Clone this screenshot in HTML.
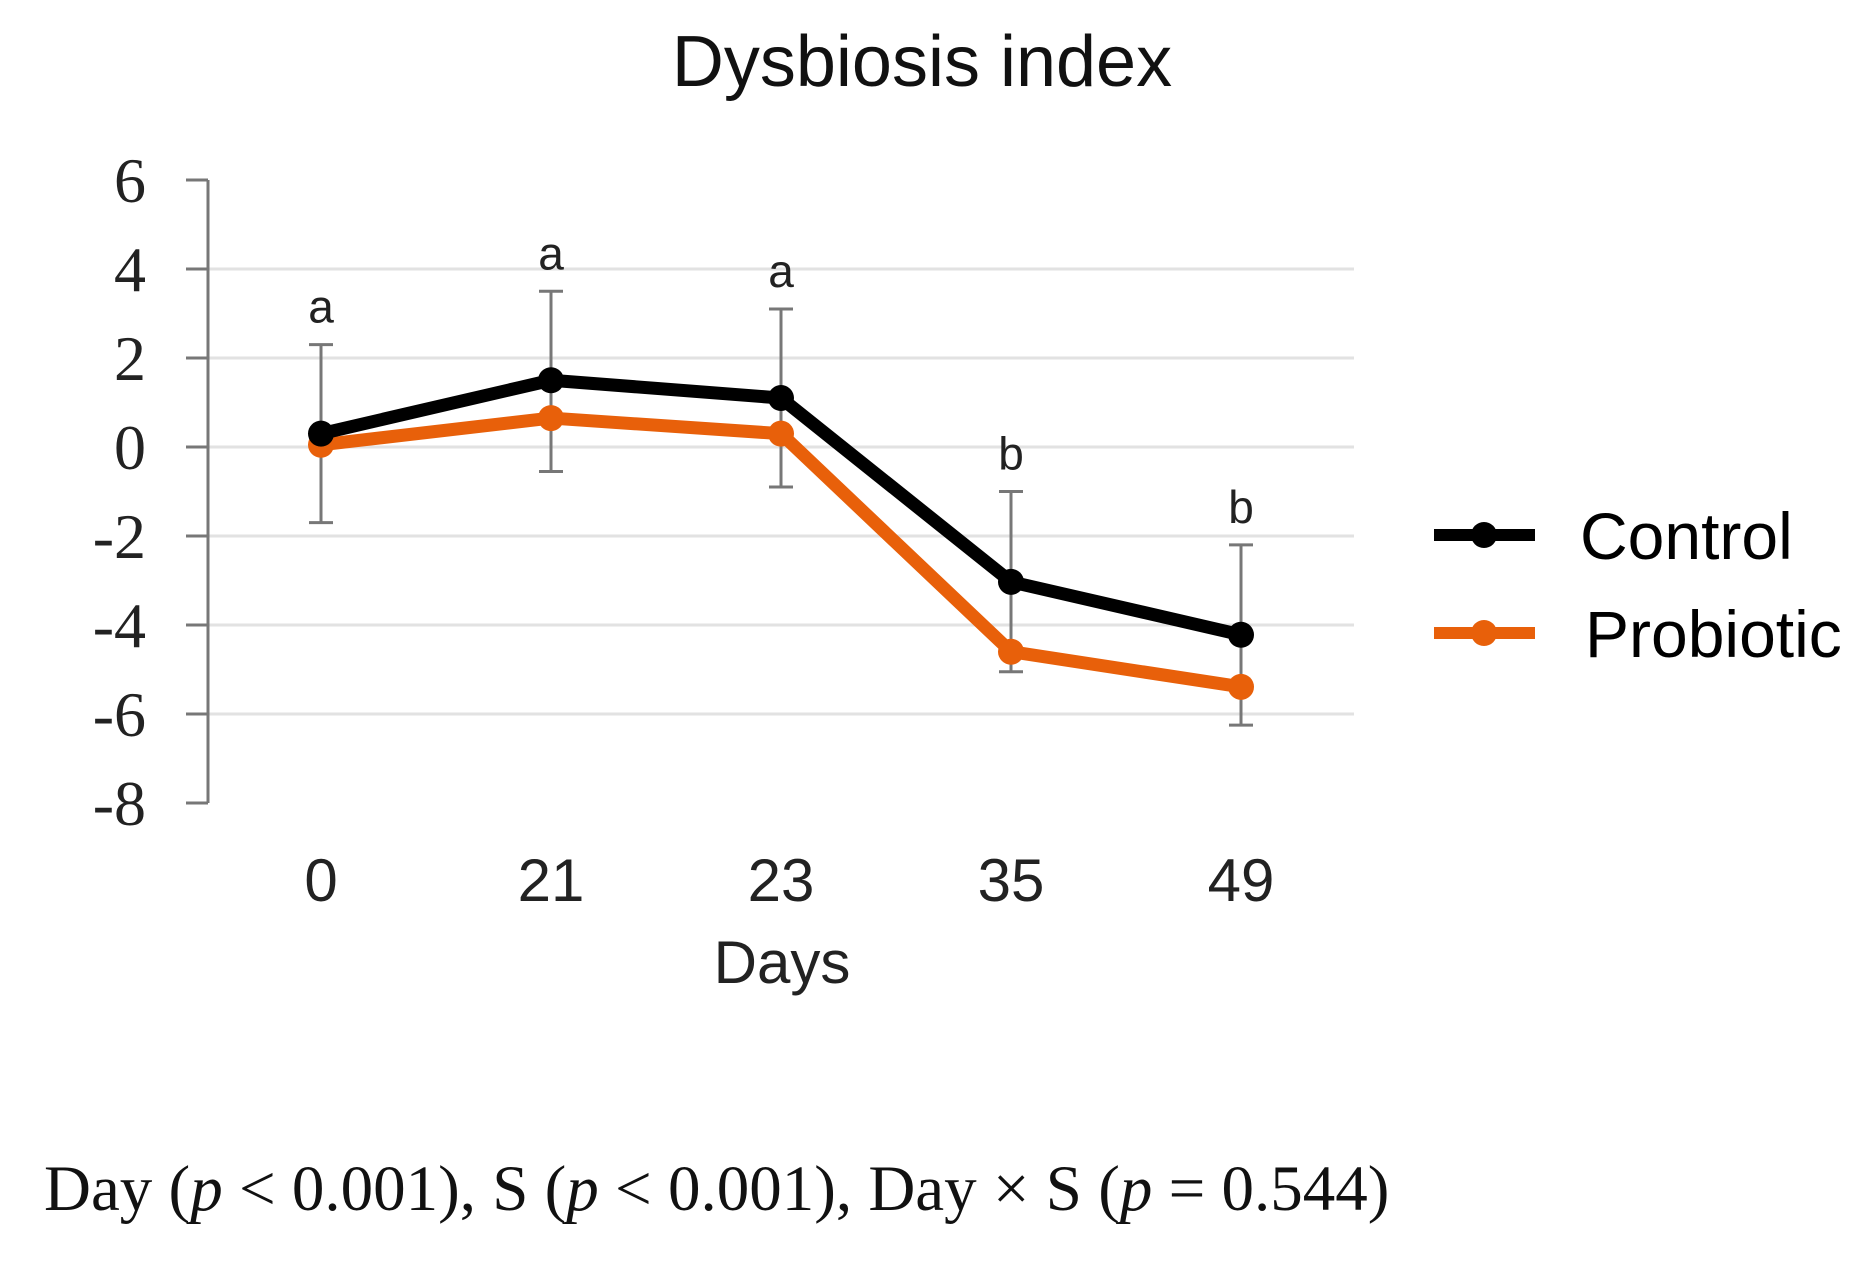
<!DOCTYPE html>
<html><head><meta charset="utf-8"><style>
html,body{margin:0;padding:0;background:#fff;}
svg{display:block}
</style></head><body>
<svg id="chart" width="1863" height="1265" xmlns="http://www.w3.org/2000/svg">
<text x="922" y="86" text-anchor="middle" font-family="Liberation Sans, sans-serif" font-size="72" fill="#111">Dysbiosis index</text>
<g id="grid"></g><g id="axes"></g><g id="errs"></g><g id="series"></g><g id="letters"></g>
<text x="782" y="983" text-anchor="middle" font-family="Liberation Sans, sans-serif" font-size="60" fill="#222">Days</text>
<g>
<g>
<line x1="1434" y1="535" x2="1535" y2="535" stroke="#000" stroke-width="12"/>
<circle cx="1484" cy="535" r="13" fill="#000"/>
<text x="1580" y="559" font-family="Liberation Sans, sans-serif" font-size="66" fill="#000">Control</text></g>
<g>
<line x1="1434" y1="633" x2="1535" y2="633" stroke="#e8600a" stroke-width="12"/>
<circle cx="1484" cy="633" r="13" fill="#e8600a"/>
<text x="1585" y="657" font-family="Liberation Sans, sans-serif" font-size="66" fill="#000">Probiotic</text></g>
</g>
<text x="44" y="1210" font-family="Liberation Serif, serif" font-size="65" fill="#111">Day (<tspan font-style="italic">p</tspan> &lt; 0.001), S (<tspan font-style="italic">p</tspan> &lt; 0.001), Day × S (<tspan font-style="italic">p</tspan> = 0.544)</text>
</svg>
<script>
const days = ["0","21","23","35","49"];
const control = [0.3, 1.5, 1.1, -3.03, -4.22];
const probiotic = [0.05, 0.65, 0.3, -4.6, -5.39];
const errUpper = [2.3, 3.5, 3.1, -1.0, -2.2];
const errLower = [-1.7, -0.55, -0.9, -5.05, -6.25];
const letters = ["a","a","a","b","b"];
const yTicks = [6,4,2,0,-2,-4,-6,-8];

const NS="http://www.w3.org/2000/svg";
const y0=447, perUnit=44.5;
function yS(v){return y0 - v*perUnit;}
function xS(i){return 321 + i*230;}
function mk(tag,attrs,parent){const e=document.createElementNS(NS,tag);for(const k in attrs)e.setAttribute(k,attrs[k]);document.getElementById(parent).appendChild(e);return e;}

yTicks.forEach(t=>{
  if(t>-8 && t<6){
    const g=mk('line',{x1:208,x2:1354,y1:yS(t),y2:yS(t),stroke:'#e2e2e2','stroke-width':3},'grid');
    
    
  }
  const tk=mk('line',{x1:186,x2:208,y1:yS(t),y2:yS(t),stroke:'#777','stroke-width':3},'axes');
  
  
  const lb=mk('text',{x:146,y:yS(t)+22,'text-anchor':'end','font-family':'Liberation Serif, serif','font-size':64,fill:'#222'},'axes');
  lb.textContent=String(t);
  
  
});
const ax=mk('line',{x1:208,x2:208,y1:yS(6),y2:yS(-8),stroke:'#777','stroke-width':3},'axes');


days.forEach((d,i)=>{
  const lb=mk('text',{x:xS(i),y:901,'text-anchor':'middle','font-family':'Liberation Sans, sans-serif','font-size':60,fill:'#222'},'axes');
  lb.textContent=d;
  
  
  const e=mk('path',{d:`M${xS(i)} ${yS(errUpper[i])}V${yS(errLower[i])}M${xS(i)-12} ${yS(errUpper[i])}H${xS(i)+12}M${xS(i)-12} ${yS(errLower[i])}H${xS(i)+12}`,stroke:'#777','stroke-width':3,fill:'none'},'errs');
  
  
  const l=mk('text',{x:xS(i),y:yS(errUpper[i])-22,'text-anchor':'middle','font-family':'Liberation Sans, sans-serif','font-size':46,fill:'#222'},'letters');
  l.textContent=letters[i];
  
  
});
[[control,'#000','control'],[probiotic,'#e8600a','probiotic']].reverse().forEach(([vals,col,name])=>{
  const p=mk('polyline',{points:vals.map((v,i)=>xS(i)+','+yS(v)).join(' '),stroke:col,'stroke-width':13,fill:'none','stroke-linejoin':'round'},'series');
  
  
  vals.forEach((v,i)=>{
    const c=mk('circle',{cx:xS(i),cy:yS(v),r:13,fill:col},'series');
    
    
  });
});
</script>
</body></html>
